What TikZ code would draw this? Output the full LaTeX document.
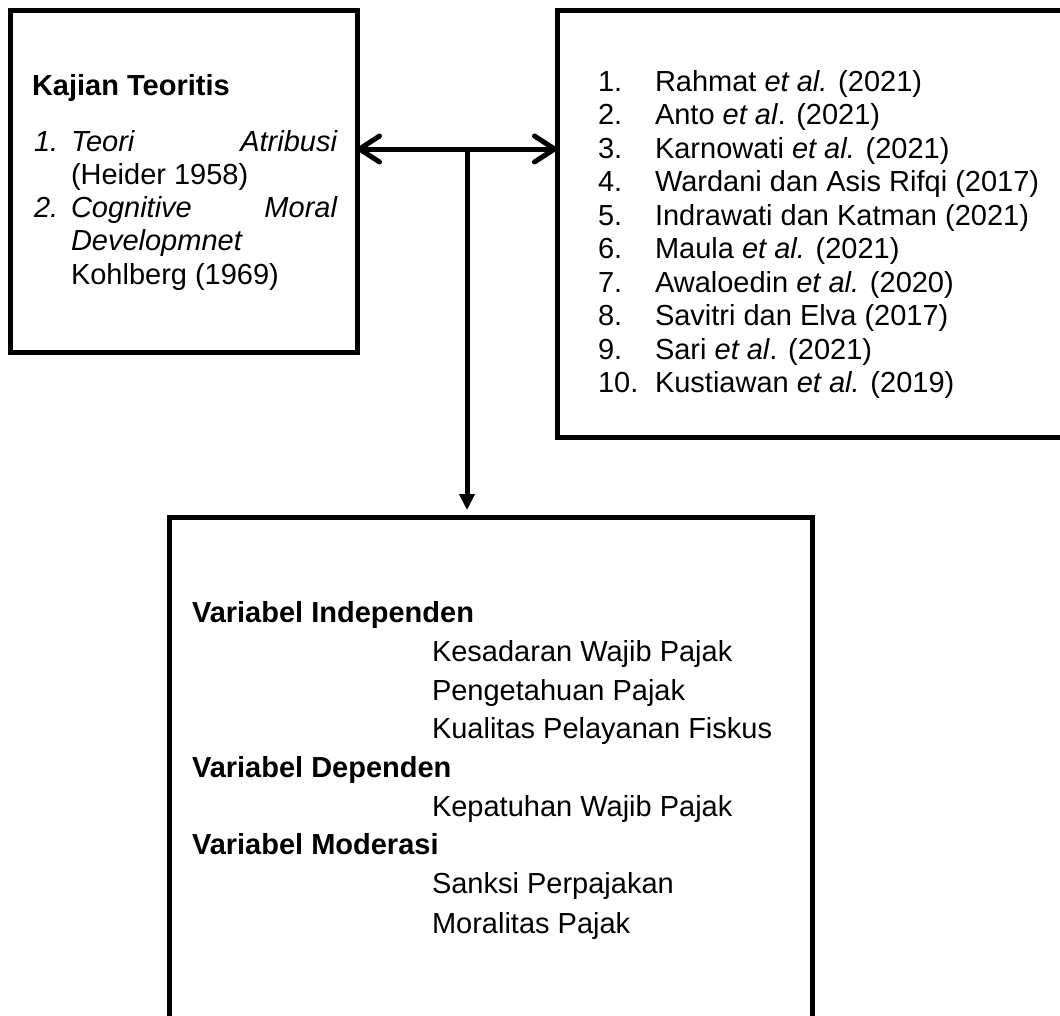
\documentclass[tikz,border=0pt]{standalone}
\usepackage{fontspec}
\setmainfont{Liberation Sans}
\usetikzlibrary{arrows.meta}
\newcommand{\etal}[1]{{\itshape et al#1}}
\begin{document}
\begin{tikzpicture}[x=1pt,y=-1pt,
  box/.style={draw,line width=5pt,outer sep=0pt,inner sep=0pt,rectangle},
  txt/.style={anchor=base west,inner sep=0pt,outer sep=0pt,font=\fontsize{29}{33}\selectfont},
  txtb/.style={txt,font=\fontsize{29}{33}\selectfont\bfseries},
  txti/.style={txt,font=\fontsize{29}{33}\selectfont\itshape},
  txtir/.style={txti,anchor=base east},
  conn/.style={line width=5pt}]
\useasboundingbox (0,0) rectangle (1060,1015);
\clip (0,0) rectangle (1060,1015);
\fill[white] (0,0) rectangle (1060,1015);
% boxes
\node[box,minimum width=347pt,minimum height=342pt] (L) at (183.5,181) {};
\node[box,minimum width=553pt,minimum height=427pt] (R) at (833.5,223.5) {};
\node[box,minimum width=643pt,minimum height=543pt] (B) at (490.5,788.5) {};
% connectors
\coordinate (hy) at (467,149);
\draw[conn,{Straight Barb[length=20pt,width=26pt,round]}-{Straight Barb[length=20pt,width=26pt,round]}]
  (L.east |- hy) -- (R.west |- hy);
\draw[conn,-{Triangle[length=16pt,width=15pt]},shorten >=7pt] (hy) -- (B.north -| hy);
% left box text
\node[txtb] (kt) at (32,95) {Kajian Teoritis};
\node[txti] (l1n) at (34,151) {1.};
\node[txti] (l1a) at (71,151) {Teori};
\node[txtir] (l1b) at (337,151) {Atribusi};
\node[txt] (l1c) at (71,184) {(Heider 1958)};
\node[txti] (l2n) at (34,217) {2.};
\node[txti] (l2a) at (71,217) {Cognitive};
\node[txtir] (l2b) at (337,217) {Moral};
\node[txti] (l2c) at (71,250) {Developmnet};
\node[txt] (l2d) at (71,284) {Kohlberg (1969)};
% right box list
\foreach \i/\t in {1/{Rahmat \etal{.} (2021)},
                   2/{Anto \etal{}. (2021)},
                   3/{Karnowati \etal{.} (2021)},
                   4/{Wardani dan Asis Rifqi (2017)},
                   5/{Indrawati dan Katman (2021)},
                   6/{Maula \etal{.} (2021)},
                   7/{Awaloedin \etal{.} (2020)},
                   8/{Savitri dan Elva (2017)},
                   9/{Sari \etal{}. (2021)},
                   10/{Kustiawan \etal{.} (2019)}}{
  \node[txt] (n\i) at (598,{91+33.5*(\i-1)}) {\i.};
  \node[txt] (r\i) at (655,{91+33.5*(\i-1)}) {\t};
}
% bottom box text
\node[txtb] (vi) at (192,622) {Variabel Independen};
\node[txt] (v1) at (432,661) {Kesadaran Wajib Pajak};
\node[txt] (v2) at (432,700) {Pengetahuan Pajak};
\node[txt] (v3) at (432,738) {Kualitas Pelayanan Fiskus};
\node[txtb] (vd) at (192,777) {Variabel Dependen};
\node[txt] (v4) at (432,816) {Kepatuhan Wajib Pajak};
\node[txtb] (vm) at (192,854) {Variabel Moderasi};
\node[txt] (v5) at (432,893) {Sanksi Perpajakan};
\node[txt] (v6) at (432,933) {Moralitas Pajak};
\end{tikzpicture}
\end{document}
